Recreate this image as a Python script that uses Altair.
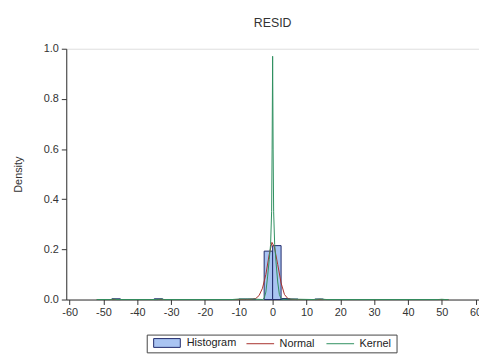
import altair as alt
import pandas as pd

# Histogram bins (left edge, right edge, density)
bin_left = [-47.5, -35.0, -10.0, -7.5, -2.5, 0.0, 2.5, 5.0, 12.5]
bin_right = [-45.0, -32.5, -7.5, -5.0, 0.0, 2.5, 5.0, 7.5, 15.0]
bin_density = [0.003, 0.003, 0.002, 0.002, 0.193, 0.215, 0.004, 0.002, 0.002]

# Normal density curve
normal_x = [-52, -20, -8, -6, -5, -4, -3, -2, -1, -0.2, 0.5, 1.5, 2.5, 3.5, 4.5, 5.5, 7, 20, 52]
normal_y = [0.0, 0.0, 0.0, 0.001, 0.004, 0.016, 0.045, 0.10, 0.18, 0.228, 0.21, 0.14, 0.066, 0.02, 0.004, 0.001, 0.0, 0.0, 0.0]

# Kernel density curve
kernel_x = [-52, -48, -47, -46, -36, -34, -33, -32, -12, -10, -8, -6, -3, -2.5, -2, -1.5, -1, -0.6, -0.3, -0.15,
            0, 0.15, 0.3, 0.6, 1, 1.5, 2, 2.5, 3, 5, 8, 12, 14, 16, 30, 49, 50, 51, 52]
kernel_y = [0.0, 0.0, 0.002, 0.0, 0.0, 0.0, 0.002, 0.0, 0.0, 0.002, 0.002, 0.002, 0.0, 0.005, 0.03, 0.09, 0.16, 0.22, 0.35, 0.6,
            0.97, 0.6, 0.35, 0.22, 0.15, 0.07, 0.02, 0.004, 0.0, 0.002, 0.001, 0.0, 0.002, 0.0, 0.0, 0.0, 0.001, 0.0, 0.0]

x_ticks = list(range(-60, 61, 10))
y_ticks = [0.0, 0.2, 0.4, 0.6, 0.8, 1.0]

FONT = "Liberation Sans"
HIST_FILL = "#a9c4f2"
HIST_STROKE = "#1f2a6b"
NORMAL_COL = "#a8302c"
KERNEL_COL = "#2f8f5f"

hist_df = pd.DataFrame({"x0": bin_left, "x1": bin_right, "d": bin_density, "lab": "Histogram"})
lines_df = pd.concat([
    pd.DataFrame({"x": normal_x, "y": normal_y, "series": "Normal"}),
    pd.DataFrame({"x": kernel_x, "y": kernel_y, "series": "Kernel"}),
])

xscale = alt.Scale(domain=[-61, 61], nice=False, zero=False)
yscale = alt.Scale(domain=[0, 1.0], nice=False)

xaxis = alt.Axis(values=x_ticks, labelExpr="'' + datum.value", grid=False, title=None,
                 labelOverlap=False, tickSize=5, labelPadding=2, labelFontSize=11, labelFont=FONT,
                 labelColor="#333", domainColor="#333", tickColor="#333")
yaxis = alt.Axis(values=y_ticks, format=".1f", grid=False, title="Density", labelOverlap=False,
                 tickSize=5, labelPadding=3, labelFontSize=11, labelFont=FONT, labelColor="#333",
                 titleFont=FONT, titleFontSize=11, titleFontWeight="normal", titleColor="#333",
                 titlePadding=20, domainColor="#333", tickColor="#333")

box = alt.Chart(pd.DataFrame({"a": [0]})).mark_rect(fill="white", stroke="#444", strokeWidth=1).encode(
    x=alt.value(82), x2=alt.value(335), y=alt.value(290), y2=alt.value(308)
)

bars = alt.Chart(hist_df).mark_rect(stroke=HIST_STROKE, strokeWidth=1).encode(
    x=alt.X("x0:Q", scale=xscale, axis=xaxis, title=None),
    x2="x1:Q",
    y=alt.Y("d:Q", scale=yscale, axis=yaxis, title="Density"),
    fill=alt.Fill("lab:N", scale=alt.Scale(domain=["Histogram"], range=[HIST_FILL]),
                  legend=alt.Legend(orient="none", legendX=88, legendY=284, title=None, padding=0,
                                    symbolType="M-1,-0.33H1V0.33H-1Z", symbolSize=729,
                                    symbolStrokeColor=HIST_STROKE, symbolStrokeWidth=1,
                                    symbolFillColor=HIST_FILL,
                                    labelFont=FONT, labelFontSize=11, labelColor="#222", labelOffset=6)),
)

lines = alt.Chart(lines_df).mark_line(strokeWidth=1).encode(
    x=alt.X("x:Q", scale=xscale, axis=xaxis, title=None),
    y=alt.Y("y:Q", scale=yscale, axis=yaxis, title="Density"),
    stroke=alt.Stroke("series:N", scale=alt.Scale(domain=["Normal", "Kernel"], range=[NORMAL_COL, KERNEL_COL]),
                      legend=alt.Legend(orient="none", legendX=182, legendY=284, title=None, padding=0,
                                        direction="horizontal", symbolType="stroke", symbolSize=784,
                                        symbolStrokeWidth=1, columnPadding=9,
                                        labelFont=FONT, labelFontSize=11, labelColor="#222", labelOffset=5)),
    order=alt.Order("x:Q"),
)

chart = alt.layer(box, bars, lines).properties(
    width=418, height=254,
    autosize="none",
    padding={"left": 59, "top": 39, "right": 0, "bottom": 60},
    title=alt.TitleParams("RESID", font=FONT, fontSize=12.5, fontWeight="normal", color="#333",
                          anchor="middle", offset=14),
).configure_view(stroke="#777", strokeWidth=1).configure(background="white")

chart.save("out.html", embed_options={"renderer": "svg", "actions": False})
